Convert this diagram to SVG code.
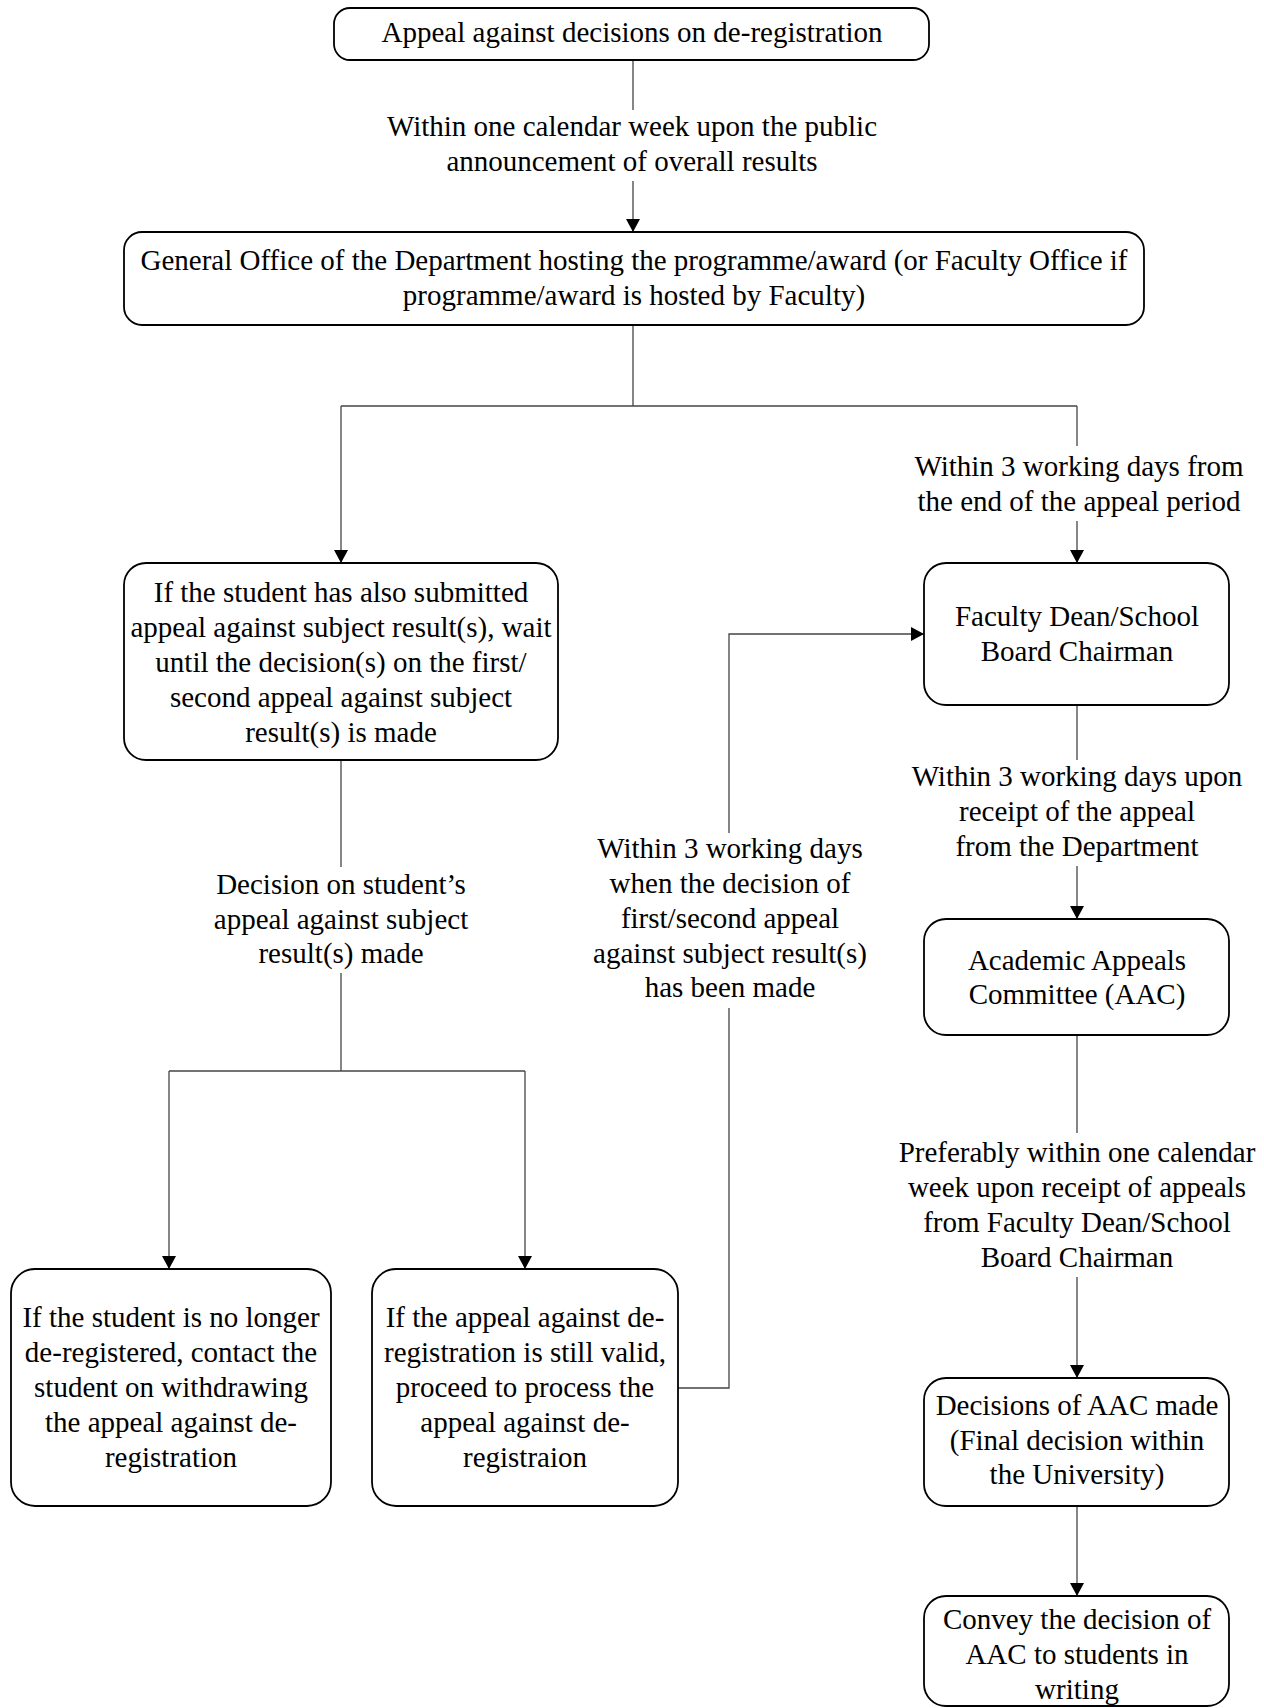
<svg xmlns="http://www.w3.org/2000/svg" width="1264" height="1708" viewBox="0 0 1264 1708">
<style>
.box{fill:#fff;stroke:#000;stroke-width:1.8}
.t{font-family:"Liberation Serif","Times New Roman",serif;font-size:29px;fill:#000;text-anchor:middle}
.c{fill:none;stroke:#444;stroke-width:1.3}
</style>
<defs>
<marker id="ah" markerUnits="userSpaceOnUse" markerWidth="13" markerHeight="14" refX="13" refY="7" orient="auto">
<path d="M0,0 L13,7 L0,14 z" fill="#000"/>
</marker>
</defs>
<rect width="1264" height="1708" fill="#fff"/>
<g id="connectors">
<line class="c" x1="633" y1="60" x2="633" y2="110"/>
<line class="c" x1="633" y1="181" x2="633" y2="232" marker-end="url(#ah)"/>
<polyline class="c" points="633,325 633,406"/>
<polyline class="c" points="341,406 1077,406"/>
<line class="c" x1="341" y1="406" x2="341" y2="563" marker-end="url(#ah)"/>
<line class="c" x1="1077" y1="406" x2="1077" y2="446"/>
<line class="c" x1="1077" y1="521" x2="1077" y2="563" marker-end="url(#ah)"/>
<line class="c" x1="1077" y1="705" x2="1077" y2="760"/>
<line class="c" x1="1077" y1="866" x2="1077" y2="919" marker-end="url(#ah)"/>
<line class="c" x1="1077" y1="1035" x2="1077" y2="1133"/>
<line class="c" x1="1077" y1="1277" x2="1077" y2="1378" marker-end="url(#ah)"/>
<line class="c" x1="1077" y1="1506" x2="1077" y2="1596" marker-end="url(#ah)"/>
<line class="c" x1="341" y1="760" x2="341" y2="867"/>
<polyline class="c" points="341,973 341,1071"/>
<polyline class="c" points="169,1071 525,1071"/>
<line class="c" x1="169" y1="1071" x2="169" y2="1269" marker-end="url(#ah)"/>
<line class="c" x1="525" y1="1071" x2="525" y2="1269" marker-end="url(#ah)"/>
<polyline class="c" points="678,1388 729,1388 729,1008"/>
<polyline class="c" points="729,833 729,634 924,634" marker-end="url(#ah)"/>
<text class="t"><tspan x="632" y="136">Within one calendar week upon the public</tspan><tspan x="632" y="171">announcement of overall results</tspan></text>
<text class="t"><tspan x="1079" y="476">Within 3 working days from</tspan><tspan x="1079" y="511">the end of the appeal period</tspan></text>
<text class="t"><tspan x="1077" y="786">Within 3 working days upon</tspan><tspan x="1077" y="821">receipt of the appeal</tspan><tspan x="1077" y="856">from the Department</tspan></text>
<text class="t"><tspan x="1077" y="1162">Preferably within one calendar</tspan><tspan x="1077" y="1197">week upon receipt of appeals</tspan><tspan x="1077" y="1232">from Faculty Dean/School</tspan><tspan x="1077" y="1267">Board Chairman</tspan></text>
<text class="t"><tspan x="341" y="894">Decision on student’s</tspan><tspan x="341" y="929">appeal against subject</tspan><tspan x="341" y="963">result(s) made</tspan></text>
<text class="t"><tspan x="730" y="858">Within 3 working days</tspan><tspan x="730" y="893">when the decision of</tspan><tspan x="730" y="928">first/second appeal</tspan><tspan x="730" y="963">against subject result(s)</tspan><tspan x="730" y="997">has been made</tspan></text>
</g>
<g id="n1">
<rect class="box" x="334" y="8" width="595" height="52" rx="16"/>
<text class="t" x="632" y="42">Appeal against decisions on de-registration</text>
</g>
<g id="n2">
<rect class="box" x="124" y="232" width="1020" height="93" rx="18"/>
<text class="t"><tspan x="634" y="270">General Office of the Department hosting the programme/award (or Faculty Office if</tspan><tspan x="634" y="305">programme/award is hosted by Faculty)</tspan></text>
</g>
<g id="n3">
<rect class="box" x="124" y="563" width="434" height="197" rx="22"/>
<text class="t"><tspan x="341" y="602">If the student has also submitted</tspan><tspan x="341" y="637">appeal against subject result(s), wait</tspan><tspan x="341" y="672">until the decision(s) on the first/</tspan><tspan x="341" y="707">second appeal against subject</tspan><tspan x="341" y="742">result(s) is made</tspan></text>
</g>
<g id="n4">
<rect class="box" x="924" y="563" width="305" height="142" rx="22"/>
<text class="t"><tspan x="1077" y="626">Faculty Dean/School</tspan><tspan x="1077" y="661">Board Chairman</tspan></text>
</g>
<g id="n5">
<rect class="box" x="924" y="919" width="305" height="116" rx="22"/>
<text class="t"><tspan x="1077" y="970">Academic Appeals</tspan><tspan x="1077" y="1004">Committee (AAC)</tspan></text>
</g>
<g id="n6">
<rect class="box" x="924" y="1378" width="305" height="128" rx="22"/>
<text class="t"><tspan x="1077" y="1415">Decisions of AAC made</tspan><tspan x="1077" y="1450">(Final decision within</tspan><tspan x="1077" y="1484">the University)</tspan></text>
</g>
<g id="n7">
<rect class="box" x="924" y="1596" width="305" height="110" rx="22"/>
<text class="t"><tspan x="1077" y="1629">Convey the decision of</tspan><tspan x="1077" y="1664">AAC to students in</tspan><tspan x="1077" y="1699">writing</tspan></text>
</g>
<g id="n8">
<rect class="box" x="11" y="1269" width="320" height="237" rx="24"/>
<text class="t"><tspan x="171" y="1327">If the student is no longer</tspan><tspan x="171" y="1362">de-registered, contact the</tspan><tspan x="171" y="1397">student on withdrawing</tspan><tspan x="171" y="1432">the appeal against de-</tspan><tspan x="171" y="1467">registration</tspan></text>
</g>
<g id="n9">
<rect class="box" x="372" y="1269" width="306" height="237" rx="24"/>
<text class="t"><tspan x="525" y="1327">If the appeal against de-</tspan><tspan x="525" y="1362">registration is still valid,</tspan><tspan x="525" y="1397">proceed to process the</tspan><tspan x="525" y="1432">appeal against de-</tspan><tspan x="525" y="1467">registraion</tspan></text>
</g>
</svg>
